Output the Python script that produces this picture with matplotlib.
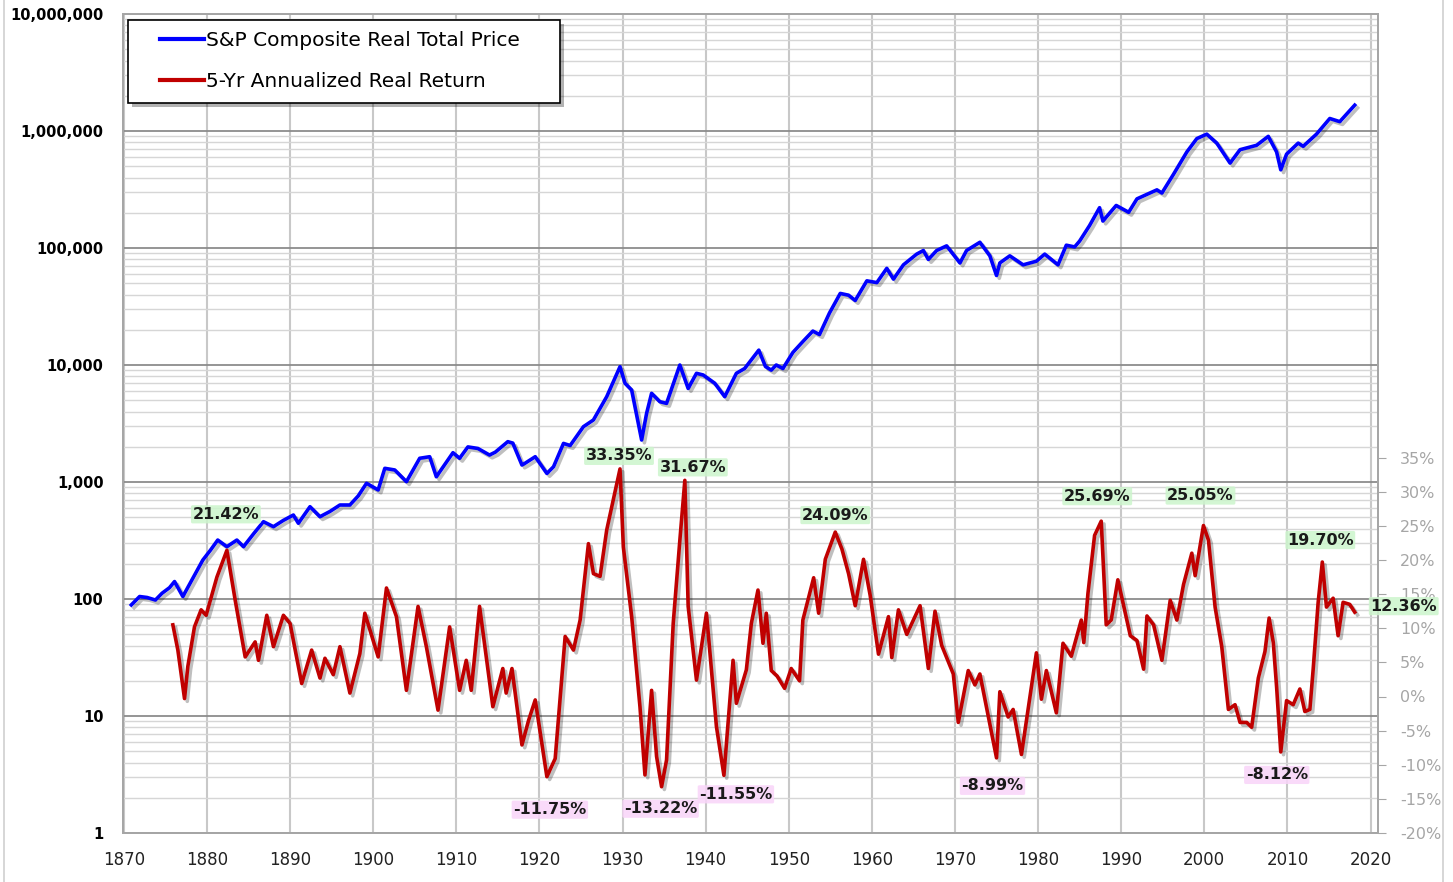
import matplotlib.pyplot as plt
import matplotlib.patheffects as pe
from matplotlib.ticker import FuncFormatter, LogLocator, NullFormatter
from matplotlib.lines import Line2D
from matplotlib.patches import Rectangle

# S&P composite real total price
price_years = [1870.9, 1871.9, 1872.8, 1873.8, 1874.6, 1875.5, 1876.1, 1877.1, 1878.3, 1879.5,
               1880.4, 1881.3, 1882.4, 1883.6, 1884.4, 1885.6, 1886.8, 1888.0, 1889.2, 1890.4,
               1891.0, 1892.4, 1893.6, 1894.8, 1896.0, 1897.2, 1898.2, 1899.2, 1900.6, 1901.4,
               1902.6, 1904.0, 1905.6, 1906.8, 1907.6, 1909.6, 1910.4, 1911.4, 1912.6, 1914.0,
               1914.7, 1916.2, 1916.8, 1917.9, 1918.3, 1919.5, 1920.9, 1921.7, 1922.9, 1923.7,
               1925.3, 1926.5, 1928.1, 1929.7, 1930.3, 1931.1, 1932.3, 1932.9, 1933.5, 1934.5,
               1935.3, 1936.9, 1937.9, 1938.9, 1939.7, 1941.1, 1942.3, 1943.7, 1944.7, 1946.4,
               1947.2, 1947.9, 1948.5, 1949.3, 1950.5, 1951.7, 1952.9, 1953.7, 1954.9, 1956.2,
               1957.2, 1958.0, 1959.4, 1960.6, 1961.8, 1962.6, 1963.8, 1965.4, 1966.2, 1966.8,
               1967.8, 1969.0, 1970.6, 1971.4, 1973.0, 1974.2, 1975.0, 1975.4, 1976.6, 1978.2,
               1979.8, 1980.8, 1982.4, 1983.4, 1984.4, 1985.0, 1986.2, 1987.4, 1987.8, 1989.4,
               1990.9, 1991.9, 1994.3, 1994.9, 1996.3, 1997.9, 1999.1, 2000.3, 2001.5, 2003.1,
               2004.3, 2006.3, 2007.7, 2008.7, 2009.2, 2009.9, 2011.3, 2011.9, 2013.5, 2015.1,
               2016.3, 2018.1]
price_values = [89, 105, 103, 98, 112, 125, 141, 105, 150, 215,
                260, 319, 280, 319, 280, 360, 458, 415, 470, 522,
                444, 615, 505, 560, 636, 636, 760, 975, 855, 1309,
                1267, 1006, 1595, 1645, 1109, 1780, 1595, 1995, 1935, 1700,
                1800, 2212, 2150, 1397, 1450, 1645, 1183, 1350, 2137, 2050,
                2970, 3390, 5360, 9675, 6980, 6110, 2285, 3865, 5730, 4855,
                4700, 10000, 6300, 8490, 8220, 6980, 5360, 8490, 9335, 13400,
                9700, 9040, 10000, 9330, 12800, 15850, 19500, 18200, 27800, 40900,
                39500, 35600, 52400, 50600, 67000, 54200, 71800, 88700, 95200, 79800,
                95200, 104300, 74500, 95200, 111900, 85700, 58200, 74500, 85700, 71800,
                77100, 88700, 71800, 105700, 102100, 114600, 155700, 221000, 170000, 231000,
                202000, 263000, 314000, 295000, 427000, 662000, 861000, 940000, 788000, 532000,
                692000, 755000, 900000, 662000, 466000, 634000, 788000, 740000, 940000, 1279000,
                1202000, 1663000]

# 5-year annualized real return, in percent
return_years = [1875.9, 1876.5, 1877.3, 1877.7, 1878.5, 1879.3, 1879.9, 1881.2, 1882.4, 1883.4,
                1884.6, 1885.8, 1886.2, 1887.2, 1888.0, 1889.2, 1890.0, 1891.4, 1892.6, 1893.6,
                1894.2, 1895.2, 1896.0, 1897.2, 1898.4, 1899.0, 1900.6, 1901.6, 1902.8, 1904.0,
                1905.4, 1906.4, 1907.8, 1909.2, 1910.4, 1911.2, 1911.8, 1912.8, 1914.4, 1915.6,
                1916.0, 1916.7, 1917.9, 1918.7, 1919.5, 1920.9, 1921.9, 1923.1, 1924.1, 1924.9,
                1925.9, 1926.5, 1927.3, 1928.1, 1929.7, 1930.1, 1931.1, 1932.1, 1932.7, 1933.5,
                1934.1, 1934.7, 1935.3, 1936.1, 1936.9, 1937.5, 1937.9, 1938.9, 1940.1, 1941.3,
                1942.2, 1943.3, 1943.7, 1944.9, 1945.5, 1946.3, 1946.9, 1947.3, 1947.9, 1948.6,
                1949.5, 1950.3, 1951.3, 1951.7, 1953.0, 1953.6, 1954.4, 1955.6, 1956.4, 1957.2,
                1958.0, 1959.0, 1959.8, 1960.8, 1962.0, 1962.4, 1963.2, 1964.2, 1965.8, 1966.8,
                1967.6, 1968.4, 1969.8, 1970.4, 1971.6, 1972.4, 1973.0, 1975.0, 1975.4, 1976.4,
                1977.0, 1978.0, 1979.8, 1980.4, 1981.0, 1982.2, 1983.0, 1984.0, 1985.2, 1985.5,
                1986.0, 1986.8, 1987.6, 1988.2, 1988.8, 1989.6, 1991.1, 1991.9, 1992.7, 1993.1,
                1993.9, 1994.9, 1995.9, 1996.7, 1997.5, 1998.5, 1998.9, 1999.9, 2000.5, 2001.3,
                2002.1, 2002.9, 2003.7, 2004.3, 2005.1, 2005.7, 2006.5, 2007.3, 2007.8, 2008.3,
                2008.7, 2009.2, 2009.9, 2010.7, 2011.5, 2012.1, 2012.7, 2013.1, 2013.7, 2014.2,
                2014.7, 2015.5, 2016.1, 2016.7, 2017.5, 2018.1]
return_values = [10.5, 6.8, -0.3, 4.4, 10.2, 12.7, 11.9, 17.5, 21.42, 14.1,
                 5.8, 8.0, 5.3, 11.9, 7.3, 11.9, 10.7, 1.9, 6.8, 2.7,
                 5.6, 3.2, 7.3, 0.5, 6.3, 12.2, 5.8, 15.9, 11.7, 0.9,
                 13.2, 7.3, -2.0, 10.2, 0.9, 5.3, 0.9, 13.2, -1.5, 4.1,
                 0.5, 4.1, -7.1, -3.5, -0.5, -11.75, -9.1, 8.8, 6.8, 11.2,
                 22.4, 18.0, 17.6, 24.4, 33.35, 21.9, 11.7, -1.5, -11.5, 0.9,
                 -8.8, -13.22, -9.3, 10.7, 22.9, 31.67, 13.2, 2.4, 12.2, -4.4,
                 -11.55, 5.3, -1.0, 3.9, 10.7, 15.6, 7.8, 12.2, 3.8, 3.0,
                 1.2, 4.1, 2.3, 11.2, 17.4, 12.2, 20.1, 24.09, 21.6, 18.0,
                 13.3, 20.1, 14.8, 6.2, 11.7, 5.7, 12.7, 9.1, 13.3, 4.1,
                 12.5, 7.5, 3.3, -3.8, 3.8, 1.7, 3.3, -8.99, 0.7, -3.0,
                 -1.9, -8.5, 6.4, -0.4, 3.8, -2.4, 7.8, 5.9, 11.2, 7.9,
                 15.1, 23.6, 25.69, 10.5, 11.2, 17.1, 8.9, 8.2, 4.0, 11.8,
                 10.5, 5.3, 14.1, 11.2, 16.4, 21.0, 17.7, 25.05, 22.9, 13.1,
                 7.3, -1.9, -1.2, -3.8, -3.8, -4.5, 2.7, 6.6, 11.5, 7.9,
                 1.4, -8.12, -0.6, -1.2, 1.1, -2.2, -1.9, 4.0, 13.8, 19.70,
                 13.1, 14.4, 8.9, 13.8, 13.5, 12.36]

# labelled peaks and troughs
label_years = [1882.4, 1929.7, 1937.5, 1955.6, 1987.6, 1999.9, 2014.2, 2018.1,
               1920.9, 1934.7, 1942.2, 1975.0, 2009.2]
label_values = [21.42, 33.35, 31.67, 24.09, 25.69, 25.05, 19.70, 12.36,
                -11.75, -13.22, -11.55, -8.99, -8.12]
# label offsets from the point, in pixels (right, up)
label_offsets = [(-1, 36), (-1, 13), (8, 13), (0, 17), (-4, 25), (-3, 30), (-2, 22), (49, 6),
                 (3, -33), (-1, -22), (12, -19), (-4, -28), (-4, -23)]

W, H = 1453, 882
fig = plt.figure(figsize=(W / 100, H / 100), dpi=100)
ax = fig.add_axes([123 / W, 1 - 833 / H, 1255 / W, 819 / H])

shadow = [pe.SimpleLineShadow(offset=(2, -2), shadow_color='k', alpha=0.25), pe.Normal()]

ax.plot(price_years, price_values, color='#0000ff', linewidth=2.6, path_effects=shadow, zorder=3)
ax.set_yscale('log')
ax.set_ylim(1, 1e7)
ax.set_xlim(1869.9, 2020.9)
ax.set_xticks(range(1870, 2021, 10))

ax.set_yticks([10 ** k for k in range(8)])
ax.yaxis.set_minor_locator(LogLocator(base=10, subs=range(2, 10), numticks=100))
ax.yaxis.set_minor_formatter(NullFormatter())
ax.yaxis.set_major_formatter(FuncFormatter(lambda v, p: '{:,.0f}'.format(v)))

ax.grid(True, which='major', axis='y', color='#8c8c8c', linewidth=1.3)
ax.grid(True, which='minor', axis='y', color='#d6d6d6', linewidth=1.0)
ax.grid(True, which='major', axis='x', color='#c8c8c8', linewidth=1.5)
ax.set_axisbelow(True)

ax.tick_params(axis='x', length=0, pad=13, labelsize=12, colors='#222222')
ax.tick_params(axis='y', which='both', length=0, pad=14, labelsize=10.5)
for t in ax.get_yticklabels():
    t.set_fontweight('bold')
for s in ax.spines.values():
    s.set_color('#a6a6a6')
    s.set_linewidth(1.3)

ax2 = ax.twinx()
ax2.plot(return_years, return_values, color='#c00000', linewidth=2.6, path_effects=shadow, zorder=3)
ax2.set_ylim(-20, 100)
ax2.set_yticks(range(-20, 40, 5))
ax2.set_yticklabels(['{}%'.format(v) for v in range(-20, 40, 5)])
ax2.tick_params(axis='y', length=6, pad=10, labelsize=11.5, colors='#a6a6a6', labelcolor='#a6a6a6')
for s in ax2.spines.values():
    s.set_color('#a6a6a6')
    s.set_linewidth(1.3)

for yr, v, (dx, dy) in zip(label_years, label_values, label_offsets):
    face = '#ccf5cc' if v > 0 else '#f9d4f9'
    ax2.annotate('{:.2f}%'.format(v), (yr, v), xytext=(dx * 0.72, dy * 0.72),
                 textcoords='offset points', ha='center', va='center', fontsize=11.5,
                 fontweight='bold', color='#1a1a1a', zorder=5,
                 bbox=dict(boxstyle='round,pad=0.1', facecolor=face, edgecolor='none', alpha=0.85))

# legend box with a drop shadow, drawn by hand so the padding matches
ax2.add_patch(Rectangle((132 / W, 1 - 107 / H), 432 / W, 83 / H, transform=fig.transFigure,
                        facecolor='#000000', alpha=0.3, edgecolor='none', clip_on=False, zorder=8))
ax2.add_patch(Rectangle((128 / W, 1 - 103 / H), 432 / W, 83 / H, transform=fig.transFigure,
                        facecolor='white', edgecolor='black', linewidth=1.2, clip_on=False, zorder=9))
handles = [Line2D([], [], color='#0000ff', linewidth=3), Line2D([], [], color='#c00000', linewidth=3)]
leg = ax2.legend(handles, ['S&P Composite Real Total Price', '5-Yr Annualized Real Return'],
                 loc='upper left', bbox_to_anchor=(160 / W, 1 - 31 / H), bbox_transform=fig.transFigure,
                 fontsize=14.5, handlelength=2.2, handletextpad=0.1, labelspacing=1.1,
                 borderpad=0, borderaxespad=0, frameon=False)
leg.set_zorder(10)

# chart area border
fig.add_artist(Line2D([4 / W, 4 / W], [0, 1], color='#d0d0d0', linewidth=1.2))
fig.add_artist(Line2D([1443 / W, 1443 / W], [0, 1], color='#d0d0d0', linewidth=1.2))

plt.savefig('out.png', dpi=100)
